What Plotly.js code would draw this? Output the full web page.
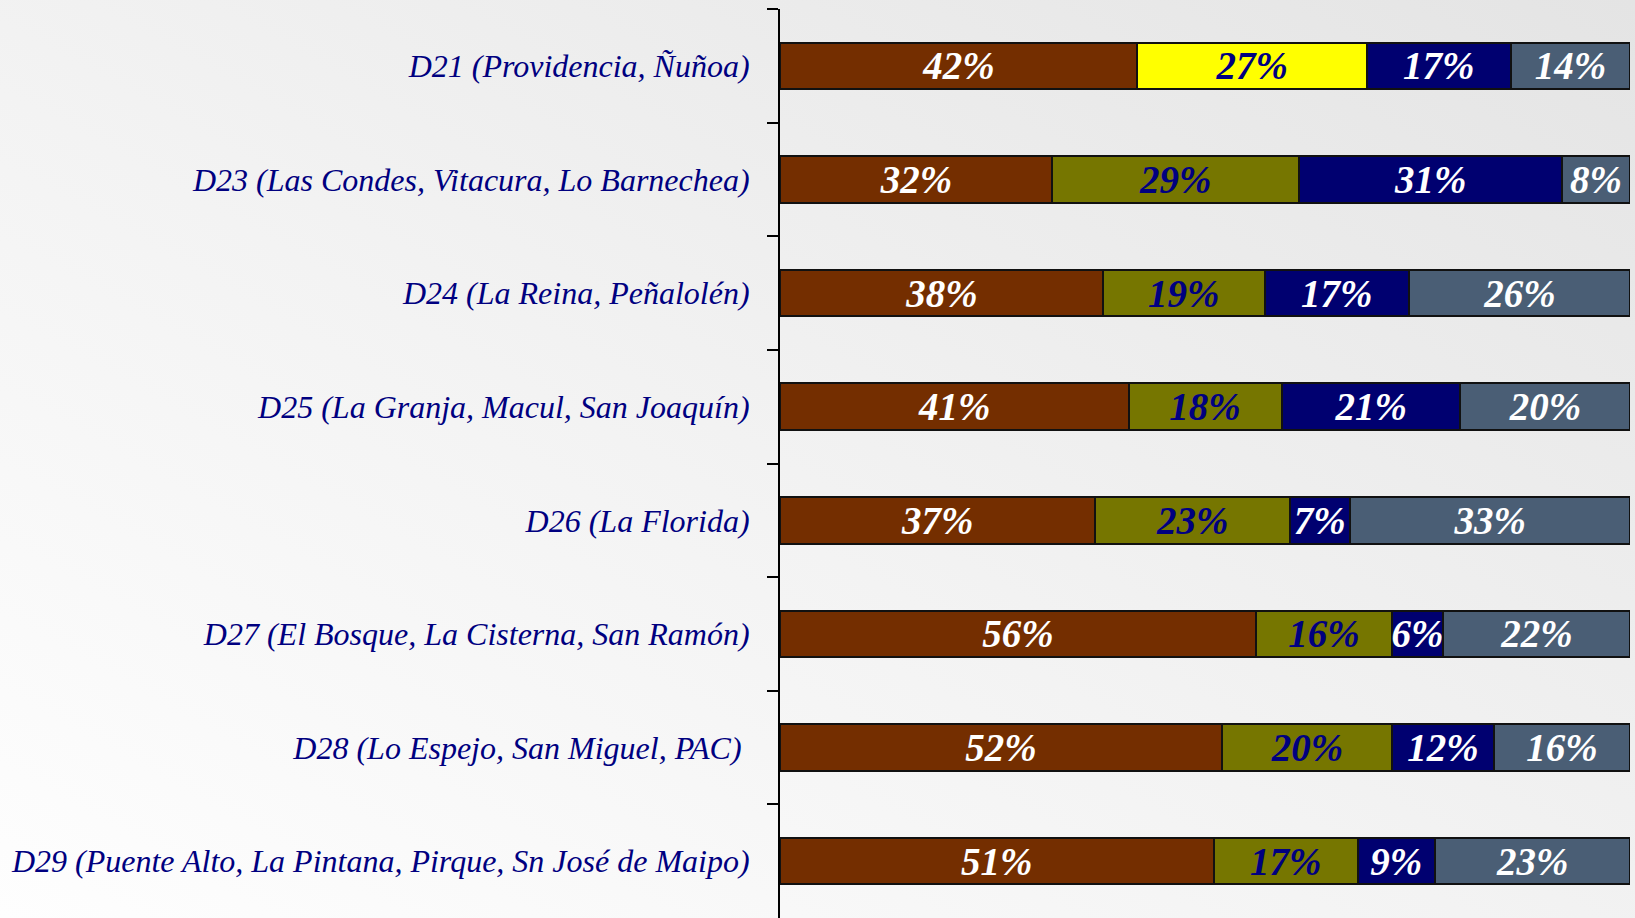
<!DOCTYPE html>
<html>
<head>
<meta charset="utf-8">
<script src="https://cdn.plot.ly/plotly-3.0.1.min.js"></script>
<style>
  html, body { margin: 0; padding: 0; }
  body { width: 1635px; height: 918px; overflow: hidden;
         background: linear-gradient(to top right, #fefefe 0%, #f3f3f3 45%, #e4e4e4 100%); }
  #chart { width: 1635px; height: 918px; }
</style>
</head>
<body>
<div id="chart"></div>
<script>
const categories = [
  "D21 (Providencia, Ñuñoa)",
  "D23 (Las Condes, Vitacura, Lo Barnechea)",
  "D24 (La Reina, Peñalolén)",
  "D25 (La Granja, Macul, San Joaquín)",
  "D26 (La Florida)",
  "D27 (El Bosque, La Cisterna, San Ramón)",
  "D28 (Lo Espejo, San Miguel, PAC)\u00a0",
  "D29 (Puente Alto, La Pintana, Pirque, Sn José de Maipo)"
];
const serie1 = [42, 32, 38, 41, 37, 56, 52, 51];
const serie2 = [27, 29, 19, 18, 23, 16, 20, 17];
const serie3 = [17, 31, 17, 21, 7, 6, 12, 9];
const serie4 = [14, 8, 26, 20, 33, 22, 16, 23];

const serie2Colors = ["#ffff00", "#767600", "#767600", "#767600", "#767600", "#767600", "#767600", "#767600"];

const textFont = (color) => ({ family: "Liberation Serif, Times New Roman, serif", size: 39, color: color, style: "italic", weight: "bold" });

function barTrace(name, values, color, txtColor) {
  return {
    type: "bar",
    orientation: "h",
    name: name,
    y: categories,
    x: values,
    marker: { color: color, line: { color: "#111111", width: 2 } },
    texttemplate: "%{x}%",
    textposition: "inside",
    insidetextanchor: "middle",
    constraintext: "none",
    textfont: textFont(txtColor),
    hoverinfo: "x+y"
  };
}

const data = [
  barTrace("Serie 1", serie1, "#742e00", "#ffffff"),
  barTrace("Serie 2", serie2, serie2Colors, "#000080"),
  barTrace("Serie 3", serie3, "#000070", "#ffffff"),
  barTrace("Serie 4", serie4, "#4a5e75", "#ffffff")
];

const layout = {
  width: 1635,
  height: 918,
  barmode: "stack",
  bargap: 0.59,
  showlegend: false,
  paper_bgcolor: "rgba(0,0,0,0)",
  plot_bgcolor: "rgba(0,0,0,0)",
  margin: { l: 780, r: 5, t: 9, b: 0 },
  xaxis: {
    range: [0, 100],
    visible: false,
    fixedrange: true
  },
  yaxis: {
    autorange: "reversed",
    showline: true,
    linecolor: "#000000",
    linewidth: 2,
    ticks: "outside",
    tickson: "boundaries",
    ticklen: 11,
    tickwidth: 2,
    tickcolor: "#000000",
    ticklabelstandoff: 22,
    showgrid: false,
    zeroline: false,
    tickfont: { family: "Liberation Serif, Times New Roman, serif", size: 32, color: "#000080", style: "italic" }
  }
};

Plotly.newPlot("chart", data, layout, { displayModeBar: false, staticPlot: true });
</script>
</body>
</html>
